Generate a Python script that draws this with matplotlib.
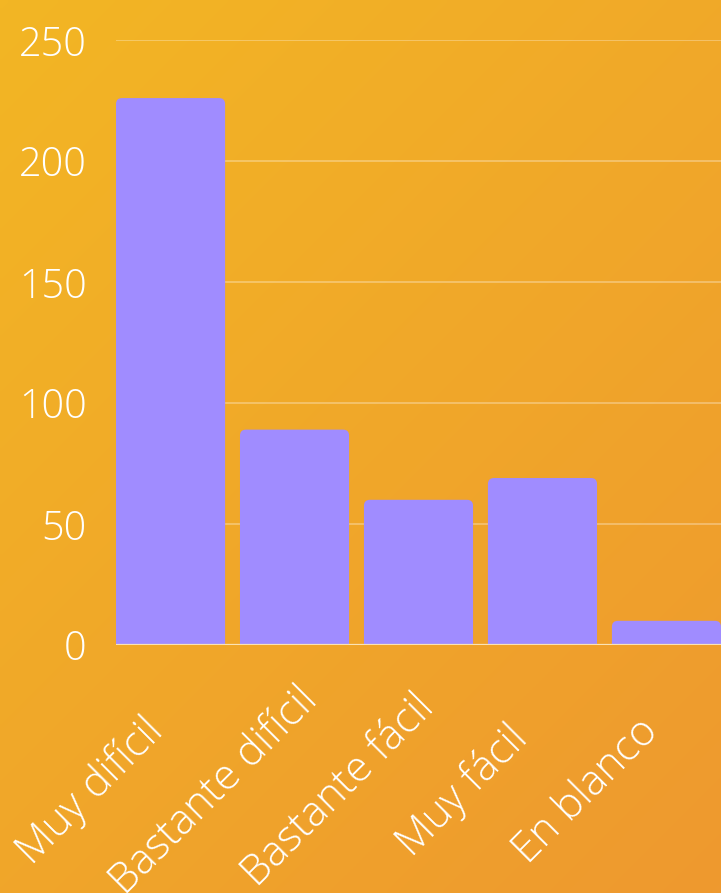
import numpy as np
import matplotlib
matplotlib.use("Agg")
import matplotlib.pyplot as plt
from matplotlib.patches import FancyBboxPatch
from matplotlib.colors import LinearSegmentedColormap
from matplotlib.transforms import ScaledTranslation

categories = ["Muy difícil", "Bastante difícil", "Bastante fácil", "Muy fácil", "En blanco"]
values = [226, 89, 60, 69, 10]
yticks = [0, 50, 100, 150, 200, 250]

plt.rcParams['font.family'] = ['Open Sans', 'DejaVu Sans']

W, H = 721, 893
fig = plt.figure(figsize=(W / 100, H / 100), dpi=100)

# gradient background
bg = fig.add_axes([0, 0, 1, 1], zorder=0)
yy, xx = np.mgrid[0:1:200j, 0:1:200j]
t = (xx * W + yy * H) / (W + H)
cmap = LinearSegmentedColormap.from_list("g", ["#F3B624", "#EE992F"])
bg.imshow(t, cmap=cmap, aspect='auto', extent=[0, 1, 1, 0], interpolation='bilinear')
bg.axis('off')

ax = fig.add_axes([116 / W, (H - 645) / H, 1 - 116 / W, (645 - 40) / H], zorder=1)
ax.patch.set_alpha(0)
ax.set_xlim(-0.44, 4.44)
ax.set_ylim(0, 250)

bw = 0.88
px_x = (W - 116) / 4.88
px_y = 605 / 250
r = 6 / px_x
aspect = (6 / px_y) / r
for i, v in enumerate(values):
    p = FancyBboxPatch((i - bw / 2, -10), bw, v + 10,
                       boxstyle=f"round,pad=0,rounding_size={r}",
                       mutation_aspect=aspect, facecolor="#A08CFF",
                       edgecolor='none', zorder=2)
    ax.add_patch(p)

ax.set_yticks(yticks)
ax.set_yticklabels([str(v) for v in yticks])
ax.tick_params(axis='y', length=0, pad=21, labelsize=28.5, labelcolor='white')
for lab in ax.get_yticklabels():
    lab.set_fontweight('light')
ax.grid(axis='y', color='white', alpha=0.35, linewidth=1.2, zorder=1)
ax.set_axisbelow(True)
ax.axhline(0, color='#FBE3B5', linewidth=1.6, zorder=3)
for s in ax.spines.values():
    s.set_visible(False)

ax.set_xticks(range(len(categories)))
ax.set_xticklabels([])
ax.tick_params(axis='x', length=0)
off = ScaledTranslation(-80 / 100, -146 / 100, fig.dpi_scale_trans)
for i, c in enumerate(categories):
    ax.text(i, 0, c, transform=ax.get_xaxis_transform() + off,
            rotation=45, ha='center', va='center', rotation_mode='anchor',
            fontsize=30.5, color='white', fontweight='light')

fig.savefig("out.png", dpi=100)
